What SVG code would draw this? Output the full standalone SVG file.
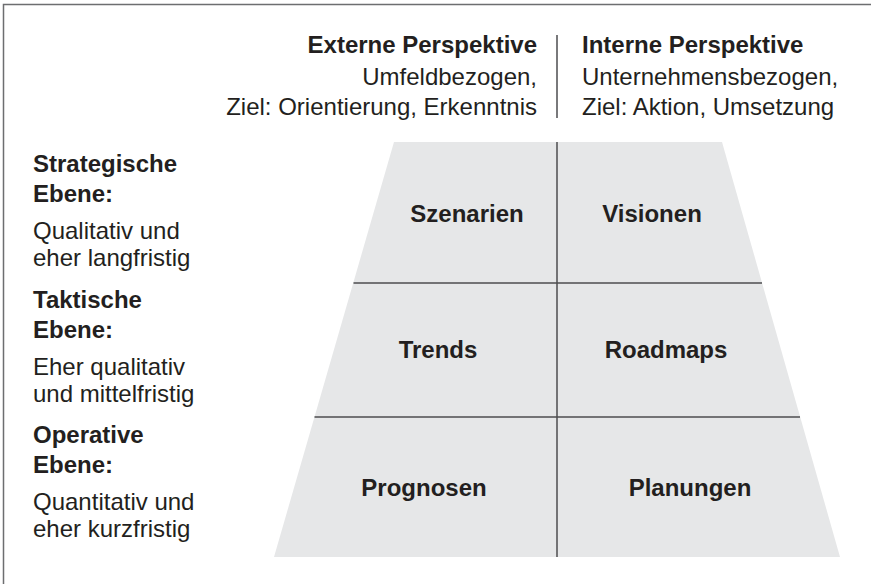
<svg xmlns="http://www.w3.org/2000/svg" width="871" height="584" viewBox="0 0 871 584">
  <style>
    text { font-family: "Liberation Sans", Arial, Helvetica, sans-serif; font-size: 24px; fill: #231f20; }
    .b { font-weight: bold; }
    .end { text-anchor: end; }
    .mid { text-anchor: middle; }
    .grid { stroke: #4d4d4f; stroke-width: 1.5; fill: none; }
    .frame { stroke: #6d6e70; stroke-width: 1.5; fill: none; }
  </style>

  <rect width="871" height="584" fill="#ffffff"/>
  <!-- outer frame (only top and left edges fall inside the canvas) -->
  <path class="frame" d="M3.5 584 V4.5 H871"/>

  <!-- column headers -->
  <g id="header-extern">
    <text class="b end" x="537" y="53">Externe Perspektive</text>
    <text class="end" x="537" y="85">Umfeldbezogen,</text>
    <text class="end" x="537" y="115">Ziel: Orientierung, Erkenntnis</text>
  </g>
  <g id="header-intern">
    <text class="b" x="582" y="53">Interne Perspektive</text>
    <text x="582" y="85">Unternehmensbezogen,</text>
    <text x="582" y="115">Ziel: Aktion, Umsetzung</text>
  </g>

  <!-- row labels -->
  <g id="level-strategisch">
    <text class="b" x="33" y="172">Strategische</text>
    <text class="b" x="33" y="202">Ebene:</text>
    <text x="33" y="239">Qualitativ und</text>
    <text x="33" y="266">eher langfristig</text>
  </g>
  <g id="level-taktisch">
    <text class="b" x="33" y="307.5">Taktische</text>
    <text class="b" x="33" y="337.5">Ebene:</text>
    <text x="33" y="374.5">Eher qualitativ</text>
    <text x="33" y="401.5">und mittelfristig</text>
  </g>
  <g id="level-operativ">
    <text class="b" x="33" y="443">Operative</text>
    <text class="b" x="33" y="473">Ebene:</text>
    <text x="33" y="510">Quantitativ und</text>
    <text x="33" y="537">eher kurzfristig</text>
  </g>

  <!-- trapezoid body -->
  <g id="pyramid">
    <polygon points="394,142 722,142 840,557 274,557" fill="#e6e7e8"/>
  </g>

  <!-- dividing lines -->
  <g id="connectors">
    <line class="grid" x1="557" y1="35" x2="557" y2="118"/>
    <line class="grid" x1="557" y1="142" x2="557" y2="557"/>
    <line class="grid" x1="353.5" y1="283" x2="762" y2="283"/>
    <line class="grid" x1="314.5" y1="417" x2="800" y2="417"/>
  </g>

  <!-- cells -->
  <g id="cell-szenarien"><text class="b mid" x="467" y="222">Szenarien</text></g>
  <g id="cell-visionen"><text class="b mid" x="652" y="222">Visionen</text></g>
  <g id="cell-trends"><text class="b mid" x="438" y="358">Trends</text></g>
  <g id="cell-roadmaps"><text class="b mid" x="666" y="358">Roadmaps</text></g>
  <g id="cell-prognosen"><text class="b mid" x="424" y="496">Prognosen</text></g>
  <g id="cell-planungen"><text class="b mid" x="690" y="496">Planungen</text></g>
</svg>
